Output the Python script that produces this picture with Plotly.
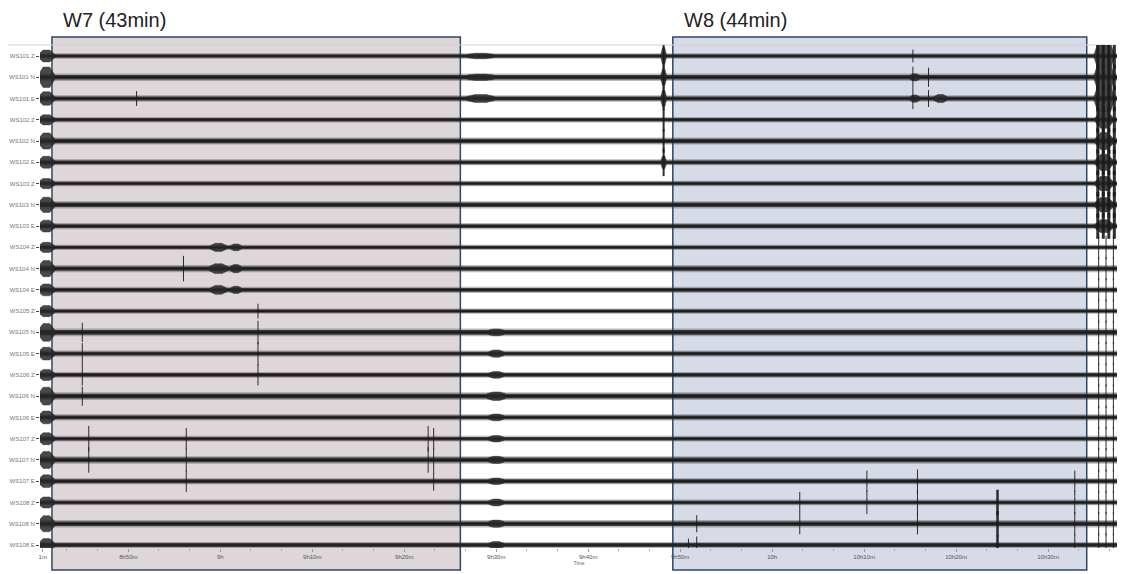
import plotly.graph_objects as go

# ---------------- data ----------------
channels = ["WS101 Z", "WS101 N", "WS101 E", "WS102 Z", "WS102 N", "WS102 E",
            "WS103 Z", "WS103 N", "WS103 E", "WS104 Z", "WS104 N", "WS104 E",
            "WS105 Z", "WS105 N", "WS105 E", "WS106 Z", "WS106 N", "WS106 E",
            "WS107 Z", "WS107 N", "WS107 E", "WS108 Z", "WS108 N", "WS108 E"]

# time in minutes after 8h00
t_start = 40.4
t_end = 157.6
tick_vals = [40.7, 50, 60, 70, 80, 90, 100, 110, 120, 130, 140, 150]
tick_text = ["1m", "8h50m", "9h", "9h10m", "9h20m", "9h30m", "9h40m", "9h50m",
             "10h", "10h10m", "10h20m", "10h30m"]

# background noise half-amplitude of each trace (in trace-spacing units)
noise_half = [0.08, 0.11, 0.095, 0.08, 0.105, 0.09, 0.08, 0.105, 0.09, 0.08, 0.105, 0.09,
              0.08, 0.115, 0.09, 0.085, 0.115, 0.09, 0.085, 0.11, 0.09, 0.085, 0.11, 0.09]

# onset burst at start of each trace
start_amp = [0.28, 0.48, 0.32, 0.24, 0.38, 0.28, 0.24, 0.36, 0.28, 0.24, 0.38, 0.28,
             0.26, 0.42, 0.30, 0.26, 0.42, 0.30, 0.28, 0.40, 0.30, 0.26, 0.38, 0.30]

# wave bursts: (row, time, half amplitude, half duration)
bursts = [
    (0, 88.3, 0.13, 1.4), (1, 88.3, 0.15, 1.4), (2, 88.3, 0.19, 1.5),
    (13, 90.0, 0.16, 0.8), (14, 90.0, 0.17, 0.8), (15, 90.0, 0.16, 0.8),
    (16, 90.0, 0.20, 1.0), (17, 90.0, 0.16, 0.8), (18, 90.0, 0.15, 0.8),
    (19, 90.0, 0.17, 0.8), (20, 90.0, 0.15, 0.8), (21, 90.0, 0.16, 0.8),
    (22, 90.0, 0.17, 0.8), (23, 90.0, 0.16, 0.8),
    (9, 59.8, 0.19, 0.9), (10, 59.8, 0.23, 1.0), (11, 59.8, 0.21, 0.9),
    (9, 61.7, 0.16, 0.6), (10, 61.7, 0.19, 0.6), (11, 61.7, 0.17, 0.6),
    (0, 108.2, 0.40, 0.3), (1, 108.2, 0.40, 0.3), (2, 108.2, 0.40, 0.3),
    (5, 108.2, 0.30, 0.3),
    (1, 135.5, 0.17, 0.5), (2, 138.3, 0.19, 0.7), (2, 135.5, 0.17, 0.5),
    (0, 156.1, 0.95, 1.1), (1, 156.1, 0.95, 1.1), (2, 156.1, 0.95, 1.1),
    (3, 156.1, 0.40, 1.0), (4, 156.1, 0.40, 1.0), (5, 156.1, 0.38, 1.0),
    (6, 156.1, 0.34, 1.0), (7, 156.1, 0.34, 1.0), (8, 156.1, 0.30, 1.0),
]

# impulsive spikes: (row, time, half amplitude, line width)
spikes = [
    (2, 50.9, 0.35, 1), (10, 56.0, 0.6, 1),
    (12, 64.1, 0.35, 1), (13, 64.1, 0.55, 1), (14, 64.1, 0.55, 1), (15, 64.1, 0.5, 1),
    (13, 45.0, 0.45, 1), (14, 45.0, 0.5, 1), (15, 45.0, 0.5, 1), (16, 45.0, 0.45, 1),
    (18, 45.7, 0.6, 1), (19, 45.7, 0.6, 1),
    (18, 56.3, 0.5, 1), (19, 56.3, 0.55, 1), (20, 56.3, 0.5, 1),
    (18, 82.6, 0.6, 1), (19, 82.6, 0.6, 1),
    (18, 83.2, 0.5, 1), (19, 83.2, 0.55, 1), (20, 83.2, 0.45, 1),
    (0, 108.2, 0.55, 2), (1, 108.2, 0.55, 2), (2, 108.2, 0.55, 2),
    (3, 108.2, 0.55, 2), (4, 108.2, 0.55, 2), (5, 108.2, 0.65, 2),
    (0, 135.3, 0.3, 1), (1, 135.3, 0.5, 1), (2, 135.3, 0.5, 1),
    (1, 137.0, 0.45, 1), (2, 137.0, 0.4, 1),
    (20, 135.8, 0.55, 1), (21, 135.8, 0.6, 1), (22, 135.8, 0.5, 1),
    (20, 130.3, 0.5, 1), (21, 130.3, 0.55, 1),
    (21, 123.0, 0.5, 1), (22, 123.0, 0.5, 1),
    (21, 144.5, 0.6, 2.5), (22, 144.5, 0.6, 2.5), (23, 144.5, 0.45, 2.5),
    (20, 152.9, 0.5, 1), (21, 152.9, 0.55, 1), (22, 152.9, 0.55, 1), (23, 152.9, 0.5, 1),
    (23, 110.9, 0.3, 1), (22, 111.8, 0.4, 1), (23, 111.8, 0.4, 1),
] + [(r, tt, 0.6, 3) for r in range(0, 9) for tt in (155.4, 156.0, 156.6, 157.2)] \
  + [(r, tt, 0.55, 1) for r in range(9, 24) for tt in (155.5, 156.3, 157.1)]

# analysis windows: (label, start, end, fill)
windows = [("W7 (43min)", 41.7, 86.1, "rgb(223,214,218)"),
           ("W8 (44min)", 109.2, 154.2, "rgb(214,219,231)")]

# ---------------- figure ----------------
HALO_COL = "rgba(60,60,60,0.35)"
TRACE_COL = "rgba(40,40,40,0.85)"
CORE_COL = "rgb(28,28,28)"
fig = go.Figure()


def band(scale):
    xs, ys = [], []
    for i, a in enumerate(noise_half):
        y = -i
        h = a * scale
        xs += [t_start, t_end, t_end, t_start, t_start, None]
        ys += [y - h, y - h, y + h, y + h, y - h, None]
    return xs, ys


for scale, col in ((1.6, HALO_COL), (1.0, TRACE_COL), (0.45, CORE_COL)):
    bx, by = band(scale)
    fig.add_trace(go.Scatter(x=bx, y=by, mode="lines", fill="toself", fillcolor=col,
                             line=dict(width=0), hoverinfo="skip", showlegend=False))

# bursts polygons (onset bursts + listed bursts)
px_, py_ = [], []
all_bursts = [(i, 41.1, start_amp[i], 0.9) for i in range(len(channels))] + bursts
for (r, t, amp, d) in all_bursts:
    y = -r
    a = noise_half[r]
    px_ += [t - d, t - d * 0.4, t + d * 0.4, t + d, t + d, t + d * 0.4, t - d * 0.4, t - d, t - d, None]
    py_ += [y + a, y + amp, y + amp, y + a, y - a, y - amp, y - amp, y - a, y + a, None]

fig.add_trace(go.Scatter(x=px_, y=py_, mode="lines", fill="toself", fillcolor=TRACE_COL,
                         line=dict(width=0.5, color=TRACE_COL), hoverinfo="skip", showlegend=False))

# spikes grouped by width
widths = sorted(set(s[3] for s in spikes))
for w in widths:
    sx, sy = [], []
    for (r, t, amp, lw) in spikes:
        if lw == w:
            sx += [t, t, None]
            sy += [-r - amp, -r + amp, None]
    fig.add_trace(go.Scatter(x=sx, y=sy, mode="lines",
                             line=dict(width=w, color="rgba(25,25,25,0.9)"),
                             hoverinfo="skip", showlegend=False))

# page body adds an 8px offset; layout below is expressed in figure pixels
PLOT_L, PLOT_T, PLOT_W, PLOT_H = 32, 37, 1078, 503
FIG_W, FIG_H = 1117, 566

# window rectangles and labels
for (lab, t0, t1, fc) in windows:
    fig.add_shape(type="rect", xref="x", yref="paper", x0=t0, x1=t1,
                  y0=-22 / PLOT_H, y1=1 + 8 / PLOT_H,
                  fillcolor=fc, line=dict(color="rgb(44,72,104)", width=1.5), layer="below")
    fig.add_annotation(x=t0 + 1.0, xref="x", y=1 + 25 / PLOT_H, yref="paper",
                       yanchor="middle", xanchor="left", text=lab, showarrow=False,
                       font=dict(family="Liberation Sans, Arial", size=20, color="#222222"))

# top frame line
fig.add_shape(type="line", xref="paper", yref="paper", x0=-PLOT_L / PLOT_W, x1=1.0, y0=1.0, y1=1.0,
              line=dict(color="rgb(210,210,210)", width=1), layer="below")

ymax = 11 / 21.26
ymin = -23 - 3 / 21.26
fig.update_layout(
    width=FIG_W, height=FIG_H,
    margin=dict(l=PLOT_L, r=FIG_W - PLOT_L - PLOT_W, t=PLOT_T, b=FIG_H - PLOT_T - PLOT_H),
    paper_bgcolor="white", plot_bgcolor="rgba(0,0,0,0)",
    font=dict(family="Liberation Sans, Arial"),
    xaxis=dict(range=[t_start, 157.6], tickvals=tick_vals, ticktext=tick_text,
               showgrid=False, zeroline=False, showline=False, automargin=False,
               ticks="outside", ticklen=3, tickcolor="#999999",
               tickfont=dict(size=6, color="#555555"),
               minor=dict(tick0=50, dtick=10 / 3, ticks="outside", ticklen=2, tickcolor="#aaaaaa"),
               title=dict(text="Time", font=dict(size=5, color="#666666"), standoff=0)),
    yaxis=dict(range=[ymin, ymax], tickvals=[-i for i in range(len(channels))],
               ticktext=channels, showgrid=False, zeroline=False, showline=False,
               automargin=False,
               ticks="outside", ticklen=3, tickcolor="#444444",
               tickfont=dict(size=6, color="#777777")),
)

fig.write_html("out.html")
